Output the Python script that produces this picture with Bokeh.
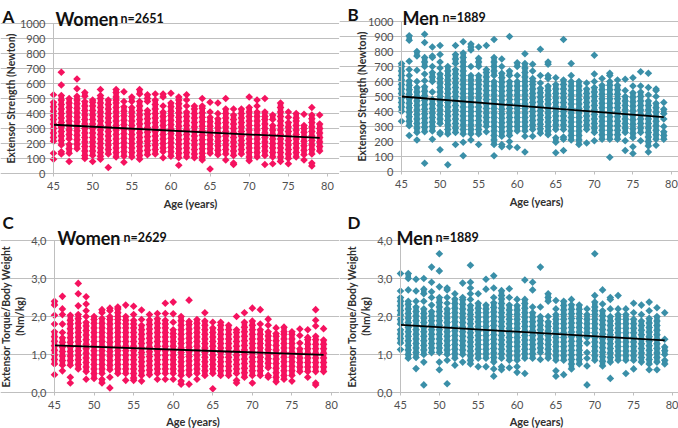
from bokeh.plotting import figure
from bokeh.layouts import column, row
from bokeh.models import Label, FixedTicker, Range1d, LinearAxis, Grid
from bokeh.embed import file_html
from bokeh.resources import INLINE

AGES = list(range(45, 80))
X_TICKS = [45, 50, 55, 60, 65, 70, 75, 80]
STRENGTH_TICKS = [0, 100, 200, 300, 400, 500, 600, 700, 800, 900, 1000]
TORQUE_TICKS = [0, 1, 2, 3, 4]
TORQUE_LABELS = ["0,0", "1,0", "2,0", "3,0", "4,0"]
TREND_AGES = [45, 79]
TREND_A = [325, 237]
TREND_B = [500, 362]
TREND_C = [1.24, 0.99]
TREND_D = [1.78, 1.37]

WOMEN_STRENGTH = [
 [95,135,215,240,270,300,330,360,385,415,445,475,525],
 [130,145,190,220,250,280,310,340,370,400,430,460,490,520,590,675],
 [80,135,165,195,230,260,290,320,350,380,410,440,470,500],
 [165,195,225,255,285,315,345,375,405,435,465,490,515,565,630],
 [100,120,150,180,210,240,270,300,330,360,390,420,450,480,515,540],
 [80,120,150,180,210,240,270,300,330,360,390,420,450,475,490],
 [95,115,140,170,200,230,260,290,320,350,380,410,440,470,500,520,560],
 [40,130,160,190,220,250,280,310,340,370,400,430,460,490],
 [110,140,170,200,230,260,290,320,350,380,410,440,470,490,510,540,560],
 [75,115,145,175,205,235,265,295,325,355,385,415,445,480,545],
 [110,140,170,200,230,260,290,320,350,380,410,440,480,510],
 [95,120,150,180,210,240,270,300,330,360,390,420,450,480,530,560],
 [125,155,185,215,245,275,305,335,365,395,420,480,500,525],
 [130,160,190,220,250,280,310,340,370,400,430,460,490,530],
 [105,145,170,200,230,260,290,320,350,380,410,450,510,530],
 [115,145,175,205,235,265,295,325,355,385,415,445,470,535],
 [55,105,135,165,195,225,255,285,315,345,375,405,435,465,490,510],
 [110,140,170,200,230,260,290,320,350,380,410,450,490,525],
 [105,130,160,190,220,250,280,310,340,370,400,430,450],
 [90,110,135,165,195,225,255,285,315,345,375,405,435,450,500],
 [30,135,165,195,225,255,285,315,345,375,410,475],
 [125,155,185,215,245,275,305,335,365,400,470],
 [90,130,160,190,220,250,280,310,340,370,400,430,500],
 [60,70,120,150,180,210,240,270,300,330,360,390,430],
 [130,160,190,220,250,280,310,340,370,400,430],
 [85,110,140,170,200,230,260,290,320,350,380,410,440,510],
 [110,140,170,200,230,260,290,320,350,380,410,450,490],
 [60,120,150,180,210,240,270,300,330,360,380,410,500],
 [65,110,140,170,200,230,260,290,320,360,390],
 [80,110,140,170,200,230,260,290,320,350,380,410,440,470],
 [65,100,130,160,190,220,250,280,310,340,375,410],
 [110,140,170,200,230,260,290,320,350,370,400],
 [90,125,155,185,215,245,275,300,320,395],
 [50,70,130,160,190,220,250,280,310,340,365,390,440],
 [150,180,210,240,270,300,330,390],
]

MEN_STRENGTH = [
 [335,400,430,460,490,520,550,580,610,640,670,700,720],
 [240,305,335,365,395,425,455,485,515,545,575,605,640,680,735,875,905],
 [210,260,290,320,350,380,410,440,470,500,530,560,600,675,770,800],
 [55,265,295,325,355,385,415,445,475,505,535,565,605,650,700,730,760,860,915],
 [215,270,300,330,360,390,420,450,480,530,600,630,660,700,760,770,830],
 [145,250,260,320,350,380,410,440,470,500,530,560,590,620,650,690,730,780,840],
 [45,250,280,310,340,370,400,430,460,490,520,550,580,610,640,670,700],
 [180,260,290,320,350,380,410,440,470,500,530,560,590,620,650,680,720,750,780,840],
 [105,195,250,280,310,340,370,400,430,460,490,520,550,580,610,640,670,700,730,760,790,865],
 [210,250,280,310,340,370,400,430,460,490,520,550,580,610,640,700,810,830,850],
 [180,250,280,310,340,370,400,430,460,490,520,550,580,610,640,700,730,755,830],
 [265,300,330,360,390,420,450,480,510,540,570,600,630,660,680,840],
 [105,180,210,240,270,300,330,360,390,420,450,480,510,540,570,600,640,670,700,730,760,880],
 [165,180,235,265,295,325,355,385,415,445,475,505,535,565,595,625,655,700,750],
 [165,200,240,270,300,330,360,390,420,450,480,510,540,570,600,640,670,900],
 [160,270,300,330,360,390,420,450,480,510,540,570,600,640,700,725],
 [130,235,270,300,330,360,390,420,450,480,510,540,570,600,630,660,690,720,785],
 [235,280,310,340,370,400,430,460,490,520,550,580,600,620,670,715],
 [255,285,315,345,375,405,435,465,495,525,555,590,640,815],
 [245,270,300,330,360,390,420,450,480,510,540,570,620,640,715,730],
 [125,195,225,280,310,340,370,400,430,460,490,520,550,580,625],
 [140,215,230,280,310,340,370,400,430,460,490,520,550,580,610,880],
 [210,240,270,300,330,360,390,420,450,480,510,540,570,600,640,720],
 [180,210,240,270,300,330,360,390,420,450,480,510,540,570,600],
 [190,280,310,340,370,400,430,460,490,520,550,590],
 [205,260,290,320,350,380,410,440,470,500,530,560,600,650,775],
 [215,245,275,305,335,365,395,425,455,485,515,545,575,620],
 [95,215,245,275,305,335,365,395,425,455,485,515,545,575,600,640,655],
 [215,245,275,305,335,365,395,425,455,485,515,545,575,610],
 [140,205,260,290,320,350,380,410,440,470,500,540,615],
 [120,165,225,255,285,315,345,375,405,435,465,495,525,570,625],
 [205,260,290,320,350,380,410,440,470,500,530,570,665],
 [130,170,200,230,260,290,320,350,380,410,440,470,510,560,655],
 [175,215,245,275,305,335,365,395,425,455,500,540,550],
 [215,240,265,300,350,385,415,460],
]

WOMEN_TORQUE = [
 [0.47,0.75,0.87,0.99,1.11,1.23,1.35,1.47,1.6,1.8,2.03,2.3,2.4],
 [0.57,0.72,0.84,0.96,1.08,1.2,1.32,1.44,1.58,1.8,2.05,2.2,2.53],
 [0.25,0.4,0.72,0.84,0.96,1.08,1.2,1.32,1.44,1.56,1.68,1.8,1.9,2.03],
 [0.62,0.74,0.86,0.98,1.1,1.22,1.34,1.46,1.58,1.7,1.82,1.94,2.05,2.28,2.6,2.87],
 [0.35,0.55,0.67,0.79,0.91,1.03,1.15,1.27,1.39,1.51,1.63,1.75,1.85,2.0,2.15,2.33,2.52],
 [0.37,0.5,0.62,0.74,0.86,0.98,1.1,1.22,1.34,1.46,1.58,1.7,1.82,1.92,2.0],
 [0.25,0.35,0.5,0.62,0.74,0.86,0.98,1.1,1.22,1.34,1.46,1.58,1.7,1.82,1.95,2.1,2.18],
 [0.12,0.4,0.6,0.72,0.84,0.96,1.08,1.2,1.32,1.44,1.56,1.68,1.8,1.92,2.0,2.15,2.22],
 [0.5,0.62,0.74,0.86,0.98,1.1,1.22,1.34,1.46,1.58,1.7,1.82,1.92,2.0,2.1,2.2,2.25],
 [0.32,0.5,0.62,0.74,0.86,0.98,1.1,1.22,1.34,1.46,1.58,1.7,1.8,1.9,2.0,2.3],
 [0.32,0.38,0.5,0.62,0.74,0.86,0.98,1.1,1.22,1.34,1.46,1.58,1.7,1.8,1.9,2.05,2.27],
 [0.3,0.45,0.57,0.69,0.81,0.93,1.05,1.17,1.29,1.41,1.53,1.65,1.77,1.92,2.17],
 [0.47,0.59,0.71,0.83,0.95,1.07,1.19,1.31,1.43,1.55,1.67,1.79,1.91,2.05],
 [0.35,0.5,0.62,0.74,0.86,0.98,1.1,1.22,1.34,1.46,1.58,1.7,1.82,1.94,2.08],
 [0.35,0.5,0.62,0.74,0.86,0.98,1.1,1.22,1.34,1.46,1.58,1.7,1.8,1.9,2.08,2.35],
 [0.35,0.5,0.62,0.74,0.86,0.98,1.1,1.22,1.34,1.46,1.55,1.65,1.85,2.07,2.38],
 [0.22,0.3,0.45,0.57,0.69,0.81,0.93,1.05,1.17,1.29,1.41,1.53,1.65,1.77,1.89,2.0],
 [0.22,0.47,0.59,0.71,0.83,0.95,1.07,1.19,1.31,1.43,1.55,1.67,1.79,1.87,2.43],
 [0.35,0.5,0.62,0.74,0.86,0.98,1.1,1.22,1.34,1.46,1.58,1.7,1.82,1.92],
 [0.45,0.57,0.69,0.81,0.93,1.05,1.17,1.29,1.41,1.53,1.65,1.77,1.88,2.1],
 [0.1,0.5,0.62,0.74,0.86,0.98,1.1,1.22,1.34,1.46,1.58,1.7,1.85],
 [0.45,0.57,0.69,0.81,0.93,1.05,1.17,1.29,1.41,1.53,1.65,1.77,1.85],
 [0.45,0.57,0.69,0.81,0.93,1.05,1.17,1.29,1.41,1.53,1.65,1.77],
 [0.25,0.32,0.5,0.62,0.74,0.86,0.98,1.1,1.22,1.34,1.46,1.58,1.65,2.0],
 [0.4,0.52,0.64,0.76,0.88,1.0,1.12,1.24,1.36,1.48,1.6,1.72,1.85,2.1],
 [0.25,0.45,0.57,0.69,0.81,0.93,1.05,1.17,1.29,1.41,1.53,1.65,1.77,1.88,2.22],
 [0.45,0.57,0.69,0.81,0.93,1.05,1.17,1.29,1.41,1.53,1.65,1.8,2.18],
 [0.4,0.45,0.65,0.77,0.89,1.01,1.13,1.25,1.37,1.49,1.6,1.77,1.93],
 [0.28,0.4,0.52,0.64,0.76,0.88,1.0,1.12,1.24,1.36,1.48,1.55,1.7],
 [0.35,0.45,0.57,0.69,0.81,0.93,1.05,1.17,1.29,1.41,1.53,1.6,1.72],
 [0.3,0.45,0.57,0.69,0.81,0.93,1.05,1.17,1.29,1.41,1.53,1.6],
 [0.55,0.67,0.79,0.91,1.03,1.15,1.3,1.5,1.67],
 [0.4,0.55,0.67,0.79,0.91,1.03,1.15,1.27,1.39,1.45,1.65],
 [0.2,0.25,0.55,0.67,0.79,0.91,1.03,1.15,1.27,1.39,1.48,1.75,1.9,2.18],
 [0.55,0.67,0.79,0.91,1.03,1.15,1.27,1.38,1.68],
]

MEN_TORQUE = [
 [1.13,1.3,1.42,1.54,1.65,1.8,1.92,2.04,2.16,2.28,2.4,2.5,2.67,3.13],
 [0.9,1.0,1.12,1.24,1.36,1.48,1.6,1.72,1.84,1.96,2.08,2.2,2.32,2.4,2.7,3.0,3.13],
 [0.63,0.92,1.05,1.17,1.29,1.41,1.53,1.65,1.77,1.89,2.01,2.13,2.25,2.4,2.67,2.98],
 [0.2,0.8,1.0,1.12,1.24,1.36,1.48,1.6,1.72,1.84,1.96,2.08,2.2,2.4,2.6,2.72,3.0],
 [1.05,1.17,1.29,1.41,1.53,1.65,1.77,1.89,2.01,2.13,2.3,2.5,2.65,2.9,3.3],
 [0.6,0.8,1.05,1.17,1.29,1.41,1.53,1.65,1.77,1.89,2.01,2.13,2.25,2.37,2.5,2.78,3.2,3.65],
 [0.23,0.85,1.0,1.12,1.24,1.36,1.48,1.6,1.72,1.84,1.96,2.08,2.2,2.35,2.5,2.7,2.75],
 [0.72,0.9,1.02,1.14,1.26,1.38,1.5,1.62,1.74,1.86,1.98,2.1,2.22,2.34,2.46,2.6],
 [0.8,1.0,1.12,1.24,1.36,1.48,1.6,1.72,1.84,1.96,2.08,2.2,2.32,2.44,2.5,2.88],
 [0.75,0.85,0.97,1.09,1.21,1.33,1.45,1.57,1.69,1.81,1.93,2.05,2.17,2.29,2.45,2.6,2.75,2.9,3.35],
 [0.68,0.9,1.02,1.14,1.26,1.38,1.5,1.62,1.74,1.86,1.98,2.1,2.22,2.35,2.6],
 [0.68,0.9,1.02,1.14,1.26,1.38,1.5,1.62,1.74,1.86,1.98,2.1,2.2,2.3,2.72,2.98],
 [0.43,0.62,0.8,0.92,1.04,1.16,1.28,1.4,1.52,1.64,1.76,1.88,2.0,2.12,2.24,2.36,2.5,2.75,3.07],
 [0.6,0.68,0.9,1.02,1.14,1.26,1.38,1.5,1.62,1.74,1.86,1.98,2.1,2.22,2.34,2.46,2.55,2.68],
 [0.65,0.85,0.97,1.09,1.21,1.33,1.45,1.57,1.69,1.81,1.93,2.05,2.17,2.3,2.5,2.73],
 [0.53,0.68,0.85,0.97,1.09,1.21,1.33,1.45,1.57,1.69,1.81,1.93,2.05,2.17,2.29,2.45],
 [0.5,0.9,1.02,1.14,1.26,1.38,1.5,1.62,1.74,1.86,1.98,2.1,2.22,2.34,2.45,2.96],
 [0.9,1.02,1.14,1.26,1.38,1.5,1.62,1.74,1.86,1.98,2.1,2.25,2.7,2.9],
 [0.87,1.05,1.17,1.29,1.41,1.53,1.65,1.77,1.89,2.0,2.25,3.3],
 [0.9,1.02,1.14,1.26,1.38,1.5,1.62,1.74,1.86,2.0,2.4,2.5,2.6],
 [0.43,0.57,0.85,0.97,1.09,1.21,1.33,1.45,1.57,1.69,1.81,1.93,2.05,2.2,2.42],
 [0.47,0.85,0.97,1.09,1.21,1.33,1.45,1.57,1.69,1.81,1.93,2.05,2.17,2.29,2.4],
 [0.62,0.75,0.87,0.99,1.11,1.23,1.35,1.47,1.59,1.71,1.83,1.95,2.07,2.19,2.31,2.45],
 [0.75,0.87,0.99,1.11,1.23,1.35,1.47,1.59,1.71,1.83,1.95,2.07,2.19,2.3],
 [0.2,0.7,0.9,1.05,1.3,1.45,1.57,1.69,1.81,1.93,2.05,2.2],
 [0.85,0.97,1.09,1.21,1.33,1.45,1.57,1.69,1.81,1.93,2.05,2.15,2.25,2.38,2.55,3.65],
 [0.7,0.82,0.94,1.06,1.18,1.3,1.42,1.54,1.66,1.78,1.9,2.02,2.15,2.33,2.7],
 [0.37,0.8,0.92,1.04,1.16,1.28,1.4,1.52,1.64,1.76,1.88,2.0,2.2,2.45,2.5],
 [0.85,0.97,1.09,1.21,1.33,1.45,1.57,1.69,1.81,1.93,2.05,2.2,2.55],
 [0.5,0.85,0.97,1.09,1.21,1.33,1.45,1.57,1.69,1.81,1.93,2.05,2.2],
 [0.62,0.85,0.97,1.09,1.21,1.33,1.45,1.57,1.69,1.81,1.93,2.1,2.35],
 [0.8,0.92,1.04,1.16,1.28,1.4,1.52,1.64,1.76,1.88,2.05,2.3],
 [0.6,0.75,0.87,0.99,1.11,1.23,1.35,1.47,1.59,1.71,1.83,1.95,2.15,2.38],
 [0.6,0.8,0.92,1.04,1.16,1.28,1.4,1.52,1.64,1.76,1.88,2.0,2.23],
 [0.75,0.85,1.0,1.1,1.2,1.4,2.1],
]

PINK = "#F5125F"
TEAL = "#3A8FA8"
GREY = "#BFBFBF"
FONT = "Lato"


def caption(text, x, y, size):
    return Label(x=x, y=y, x_units="screen", y_units="screen", text=text, text_font=FONT,
                 text_baseline="alphabetic", text_font_size=size, text_font_style="bold", text_color="#111111")


def panel(letter, lx, ly, head, hx, hy, small, sx, sy, columns, trend, color, ymax, ticks, overrides,
          ylabel, standoff, xstandoff, fw, fh, left, frame_w, top, frame_h):
    ppx = frame_w / 35
    ppv = frame_h / ymax
    bottom = fh - top - frame_h
    p = figure(width=fw, height=fh, output_backend="svg", toolbar_location=None,
               x_range=Range1d(45 - left / ppx, 45 + (fw - left) / ppx),
               y_range=Range1d(-bottom / ppv, ymax + top / ppv),
               min_border=0, x_axis_type=None, y_axis_type=None, outline_line_color=None)
    xa = LinearAxis(ticker=FixedTicker(ticks=X_TICKS), bounds=(45, 80), fixed_location=0, axis_label="Age (years)")
    ya = LinearAxis(ticker=FixedTicker(ticks=ticks), bounds=(0, ymax), fixed_location=45, axis_label=ylabel,
                    major_label_overrides=overrides)
    for ax in (xa, ya):
        ax.axis_line_color = GREY
        ax.major_tick_line_color = GREY
        ax.minor_tick_line_color = None
        ax.major_tick_in = 0
        ax.major_tick_out = 3
        ax.major_label_text_font = FONT
        ax.major_label_text_font_size = "11px"
        ax.major_label_text_color = "#505050"
        ax.axis_label_text_font = FONT
        ax.axis_label_text_font_style = "bold"
        ax.axis_label_text_color = "#303030"
    xa.axis_label_text_font_size = "11px"
    ya.axis_label_text_font_size = "10.5px"
    xa.axis_label_standoff = xstandoff
    xa.major_label_standoff = 5
    ya.axis_label_standoff = standoff
    ya.major_label_standoff = 5
    p.add_layout(xa, "below")
    p.add_layout(ya, "left")
    p.add_layout(Grid(dimension=1, ticker=FixedTicker(ticks=ticks), bounds=(45, 80),
                      grid_line_color=GREY, grid_line_width=1.2))
    gap = 0.033 * ymax
    sx0, sy0, sy1 = [], [], []
    for age, vals in zip(AGES, columns):
        for lo, hi in zip(vals, vals[1:]):
            if hi - lo <= gap:
                sx0.append(age)
                sy0.append(lo)
                sy1.append(hi)
    p.segment(sx0, sy0, sx0, sy1, line_color=color, line_width=5.5)
    xs = [a for a, vals in zip(AGES, columns) for _ in vals]
    ys = [v for vals in columns for v in vals]
    p.scatter(xs, ys, marker="square", angle=0.7854, size=5.4, color=color, line_color=None)
    p.line(TREND_AGES, trend, line_color="black", line_width=1.8)
    p.add_layout(caption(letter, lx, fh - ly, "17px"))
    p.add_layout(caption(head, hx, fh - hy, "18px"))
    p.add_layout(caption(small, sx, fh - sy, "12.5px"))
    return p


strength_labels = {t: str(t) for t in STRENGTH_TICKS}
torque_labels = dict(zip(TORQUE_TICKS, TORQUE_LABELS))
torque_title = "Extensor Torque/Body Weight\n(Nm/kg)"

a = panel("A", 2, 16, "Women", 55, 18, "n=2651", 120, 18, WOMEN_STRENGTH, TREND_A, PINK, 1000, STRENGTH_TICKS,
          strength_labels, "Extensor Strength (Newton)", 0, 4, 339, 214, 53, 274, 23, 150)
b = panel("B", 8, 14, "Men", 63, 17, "n=1889", 103, 17, MEN_STRENGTH, TREND_B, TEAL, 1000, STRENGTH_TICKS,
          strength_labels, "Extensor Strength (Newton)", -3, 4, 339, 214, 62, 270, 21, 150)
c = panel("C", 2, 8, "Women", 57, 23, "n=2629", 123, 23, WOMEN_TORQUE, TREND_C, PINK, 4, TORQUE_TICKS,
          torque_labels, torque_title, 2, 3, 339, 214, 54, 277, 26, 152)
d = panel("D", 8, 8, "Men", 57, 23, "n=1889", 96, 23, MEN_TORQUE, TREND_D, TEAL, 4, TORQUE_TICKS,
          torque_labels, torque_title, 2, 3, 339, 214, 61, 272, 26, 152)

page = column(row(a, b, spacing=0), row(c, d, spacing=0), spacing=0)
open("out.html", "w").write(file_html(page, INLINE))
